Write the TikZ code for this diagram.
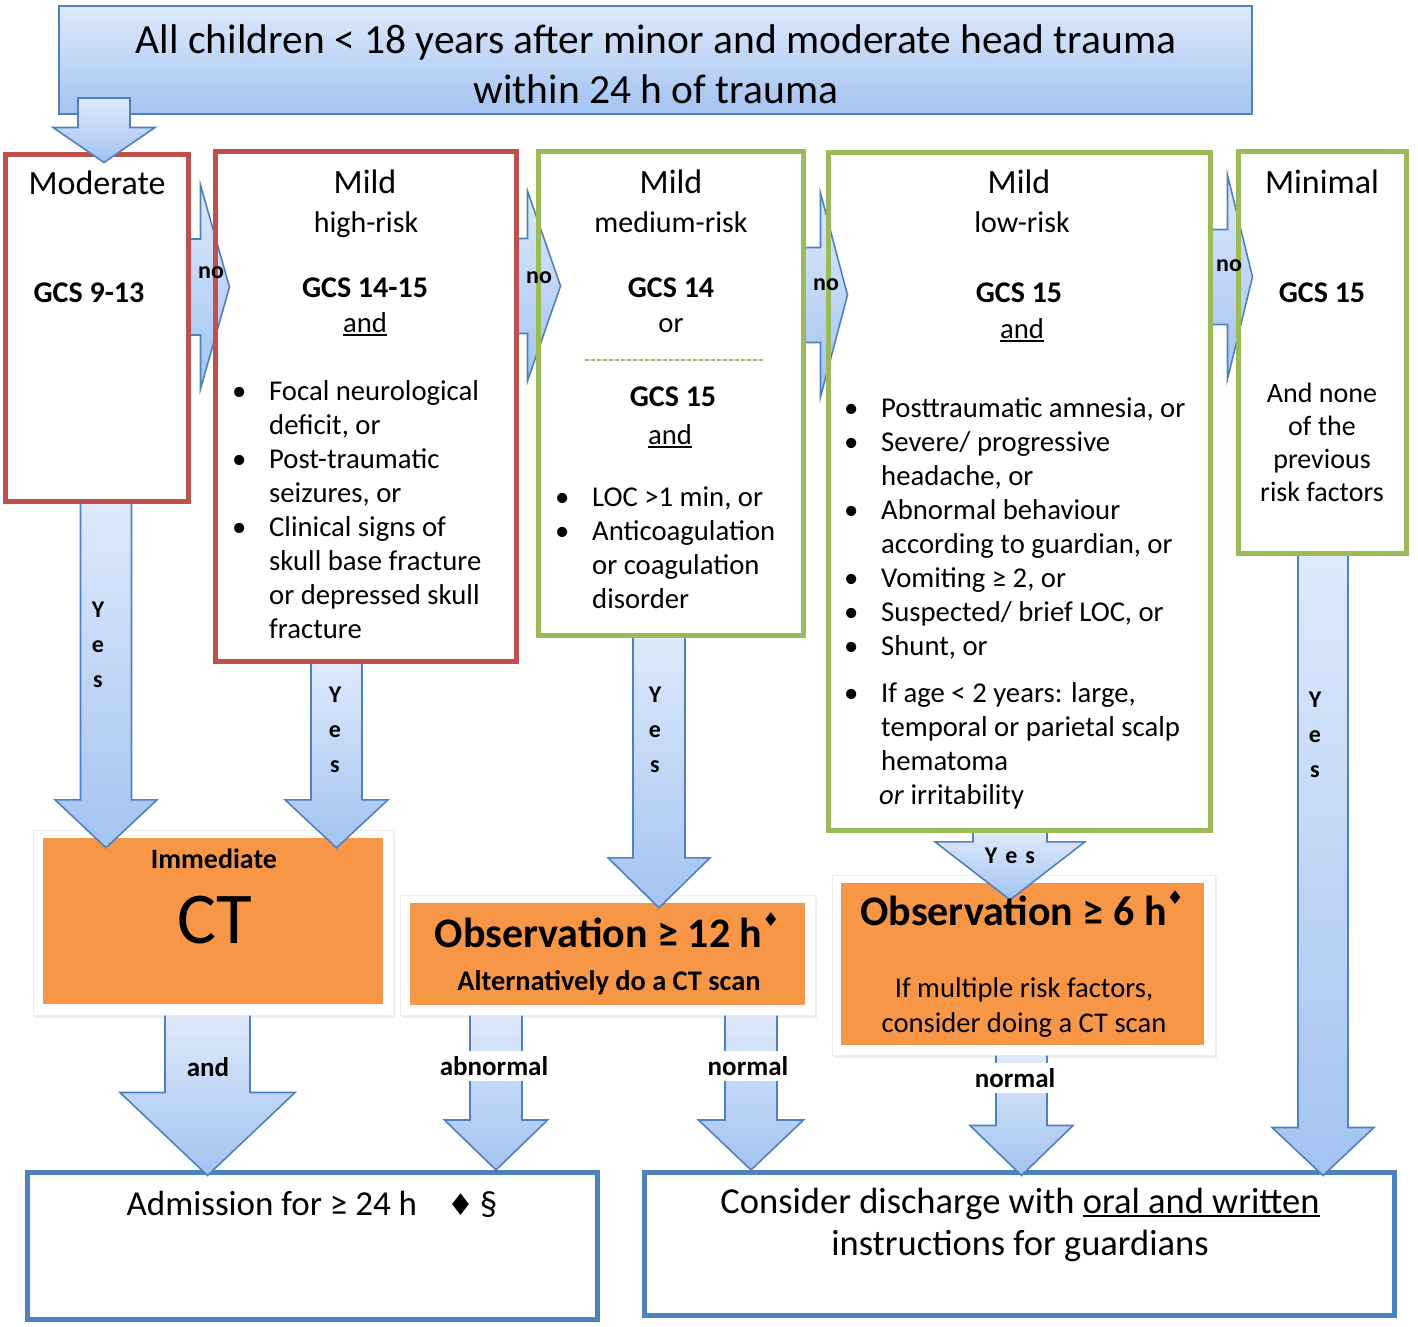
\documentclass[tikz,border=0pt]{standalone}
\usepackage{fontspec}
\setmainfont{Carlito}
\newfontfamily\symfont{DejaVu Sans}
\usetikzlibrary{calc,positioning,shadows}

\definecolor{frameblue}{RGB}{79,129,189}
\definecolor{boxred}{RGB}{192,80,77}
\definecolor{boxgreen}{RGB}{155,187,89}
\definecolor{boxorange}{RGB}{247,150,70}
\definecolor{arrowlight}{RGB}{222,233,251}
\definecolor{arrowdark}{RGB}{163,195,241}

\pgfdeclarelayer{back}
\pgfdeclarelayer{front}
\pgfsetlayers{back,main,front}

\newcommand{\fs}[2]{\fontsize{#1}{#2}\selectfont}
\newcommand{\dia}{\raisebox{0.5em}{\symfont\fontsize{19}{19}\selectfont ♦}}
\newcommand{\itm}{\makebox[37pt][l]{•}}
\newcommand{\uln}[1]{\setbox0\hbox{#1}\rlap{\rule[-3.5pt]{\wd0}{1.6pt}}\box0}

% block arrows: [close], start, end, shaft half width, head half width, head length
\newcommand{\blockdown}[6][]{%
  \path[blockarrow] let \p1=#2, \p2=#3 in
    ({\x1-#4},\y1) -- ({\x1-#4},{\y2+#6}) -- ({\x1-#5},{\y2+#6}) -- (\x1,\y2)
    -- ({\x1+#5},{\y2+#6}) -- ({\x1+#4},{\y2+#6}) -- ({\x1+#4},\y1) #1;}
\newcommand{\blockright}[5]{%
  \path[blockarrow] let \p1=#1, \p2=#2 in
    (\x1,{\y1+#3}) -- ({\x2-#5},{\y1+#3}) -- ({\x2-#5},{\y1+#4}) -- (\x2,\y1)
    -- ({\x2-#5},{\y1-#4}) -- ({\x2-#5},{\y1-#3}) -- (\x1,{\y1-#3});}

\begin{document}
\begin{tikzpicture}[x=1pt,y=-1pt,
  blockarrow/.style={top color=arrowlight,bottom color=arrowdark,draw=frameblue,line width=1.6pt,line join=miter},
  topbox/.style={draw=frameblue,line width=2pt,top color=arrowlight,bottom color=arrowdark,inner sep=0pt},
  riskbox/.style={draw=#1,line width=5pt,inner sep=0pt},
  outbox/.style={draw=frameblue,line width=5pt,fill=white,inner sep=0pt},
  panel/.style={fill=white,draw=black!7,line width=1pt,inner sep=0pt,
    drop shadow={shadow xshift=1.5pt,shadow yshift=-2.5pt,opacity=0.15}},
  orangebox/.style={fill=boxorange,inner sep=0pt},
  txt/.style={inner sep=0pt,anchor=base},
  head/.style={txt,font=\fs{34}{40}},
  sub/.style={txt,font=\fs{30}{36}},
  gcs/.style={txt,font=\bfseries\fs{30}{36}},
  body/.style={txt,font=\fs{28.7}{34}},
  lbl/.style={inner sep=0pt,font=\bfseries\fs{24}{35},align=center},
  flowlbl/.style={inner sep=5pt,font=\bfseries\fs{27}{32}},
  gcsdash/.style={draw=boxgreen,line width=1.6pt,dash pattern=on 4pt off 2pt}]
\useasboundingbox (0,0) rectangle (1418,1327);

\begin{pgfonlayer}{back}
  \node[topbox,minimum width=1193pt,minimum height=108pt] (top) at (655.5,60) {};
  \node[outbox,minimum width=570pt,minimum height=147pt] (adm) at (312.5,1246) {};
  \node[outbox,minimum width=750pt,minimum height=143pt] (dis) at (1019.5,1244) {};
  \node[panel,minimum width=360pt,minimum height=185pt] (ctp) at (213,922.5) {};
  \node[orangebox,minimum width=340pt,minimum height=166pt] (ct) at (213,921) {};
  \node[panel,minimum width=415pt,minimum height=120pt] (o12p) at (607.5,955) {};
  \node[orangebox,minimum width=395pt,minimum height=102pt] (o12) at (607.5,954) {};
  \node[panel,minimum width=383pt,minimum height=180pt] (o6p) at (1023.5,965) {};
  \node[orangebox,minimum width=363pt,minimum height=162pt] (o6) at (1022.5,964) {};
\end{pgfonlayer}

\begin{pgfonlayer}{front}
  \node[riskbox=boxred,minimum width=183pt,minimum height=347pt] (mod) at (96.5,327.5) {};
  \node[riskbox=boxred,minimum width=301pt,minimum height=510pt] (hi) at (365.5,406) {};
  \node[riskbox=boxgreen,minimum width=265pt,minimum height=484pt] (med) at (670.5,393) {};
  \node[riskbox=boxgreen,minimum width=382pt,minimum height=678pt] (low) at (1019,491) {};
  \node[riskbox=boxgreen,minimum width=168pt,minimum height=402pt] (mini) at (1322,352) {};
\end{pgfonlayer}

% title
\node[txt,font=\fs{41.5}{50}] (title) at (656,54) {\begin{tabular}[t]{@{}c@{}}All children < 18 years after minor and moderate head trauma\\within 24 h of trauma\end{tabular}};

% no arrows
\blockright{($(mod.east)+(0,-40.5)$)}{($(hi.west)+(17,0)$)}{48pt}{102pt}{29pt}
\blockright{($(hi.east)+(0,-120)$)}{($(med.west)+(25,0)$)}{47.5pt}{95pt}{33pt}
\blockright{($(med.east)+(0,-98)$)}{($(low.west)+(22,0)$)}{47.5pt}{102pt}{27pt}
\blockright{($(low.east)+(0,-214)$)}{($(mini.west)+(17,0)$)}{47.5pt}{102pt}{25pt}

% yes arrows
\blockdown{($(mod.south)+(9.5,0)$)}{($(ct.north)+(0,10)$)}{25.5pt}{51pt}{48pt}
\blockdown{($(hi.south)+(-29,0)$)}{($(ct.north)+(0,10)$)}{25.5pt}{51.5pt}{48pt}
\blockdown{($(med.south)+(-11.5,0)$)}{($(o12.north)+(0,5)$)}{26pt}{51pt}{50pt}
\blockdown{($(low.south)+(-9,0)$)}{($(o6.north)+(0,17)$)}{37pt}{75pt}{58pt}
\blockdown{($(mini.south)+(1,0)$)}{($(dis.north)+(0,5.5)$)}{25pt}{51pt}{48pt}

% outcome arrows
\blockdown{($(ctp.south)+(-5.5,0)$)}{($(adm.north)+(0,5.5)$)}{42.5pt}{87.5pt}{83pt}
\blockdown{($(o12p.south)+(-111.5,0)$)}{(adm.north)}{26pt}{51.5pt}{50pt}
\blockdown{($(o12p.south)+(143.5,0)$)}{(dis.north)}{26pt}{52.5pt}{50pt}
\blockdown{($(o6p.south)+(-2,0)$)}{($(dis.north)+(0,5.5)$)}{25.5pt}{51.5pt}{50pt}

% moderate
\node[head] (modt) at (97,194) {Moderate};
\node[gcs] (modg) at (89,302) {GCS 9-13};

% mild high-risk
\node[head] (hit) at (365,193) {Mild};
\node[sub] (his) at (366,232) {high-risk};
\node[gcs] (hig) at (365,297) {GCS 14-15};
\node[body] (hia) at (365,332) {\uln{and}};
\node[body,anchor=base west] (hil) at (232,400) {\begin{tabular}[t]{@{}l@{}l@{}}
  \itm & Focal neurological\\ & deficit, or\\
  \itm & Post-traumatic\\ & seizures, or\\
  \itm & Clinical signs of\\ & skull base fracture\\ & or depressed skull\\ & fracture\end{tabular}};

% mild medium-risk
\node[head] (medt) at (671,193) {Mild};
\node[sub] (meds) at (671,232) {medium-risk};
\node[gcs] (medg) at (671,297) {GCS 14};
\node[body] (medo) at (671,332) {or};
\draw[gcsdash] (585,360) -- (763,360);
\node[gcs] (medh) at (673,406) {GCS 15};
\node[body] (meda) at (670,444) {\uln{and}};
\node[body,anchor=base west] (medl) at (555,506) {\begin{tabular}[t]{@{}l@{}l@{}}
  \itm & LOC >1 min, or\\
  \itm & Anticoagulation\\ & or coagulation\\ & disorder\end{tabular}};

% mild low-risk
\node[head] (lowt) at (1019,193) {Mild};
\node[sub] (lows) at (1022,232) {low-risk};
\node[gcs] (lowg) at (1019,302) {GCS 15};
\node[body] (lowa) at (1022,338) {\uln{and}};
\node[body,anchor=base west] (lowl) at (844,417) {\begin{tabular}[t]{@{}l@{}l@{}}
  \itm & Posttraumatic amnesia, or\\
  \itm & Severe/ progressive\\ & headache, or\\
  \itm & Abnormal behaviour\\ & according to guardian, or\\
  \itm & Vomiting ≥ 2, or\\
  \itm & Suspected/ brief LOC, or\\
  \itm & Shunt, or\\[13pt]
  \itm & If age < 2 years: large,\\ & temporal or parietal scalp\\ & hematoma\\ & \hspace{-2pt}\textit{or} irritability\end{tabular}};

% minimal
\node[head] (minit) at (1322,193) {Minimal};
\node[gcs] (minig) at (1322,302) {GCS 15};
\node[body,font=\fs{28}{33}] (minib) at (1322,402) {\begin{tabular}[t]{@{}c@{}}And none\\of the\\previous\\risk factors\end{tabular}};

% orange boxes
\node[txt,font=\bfseries\fs{28}{34}] (ctt) at (214,868) {Immediate};
\node[txt,font=\fs{73}{80}] (ctb) at (215,943) {CT};
\node[txt,font=\bfseries\fs{42}{46}] (o12t) at (607,947) {Observation ≥ 12 h\dia};
\node[txt,font=\bfseries\fs{28.4}{34}] (o12s) at (609,990) {Alternatively do a CT scan};
\node[txt,font=\bfseries\fs{42}{46}] (o6t) at (1022,925) {Observation ≥ 6 h\dia};
\node[body,font=\fs{28.6}{35}] (o6s) at (1024,997) {\begin{tabular}[t]{@{}c@{}}If multiple risk factors,\\consider doing a CT scan\end{tabular}};

% outcomes
\node[txt,font=\fs{35}{42}] (admt) at (312,1215) {Admission for ≥ 24 h\hspace{30pt}{\symfont\fontsize{30}{30}\selectfont ♦}\,§};
\node[txt,font=\fs{36.5}{42}] (dist) at (1020,1213) {\begin{tabular}[t]{@{}c@{}}Consider discharge with \uln{oral and written}\\instructions for guardians\end{tabular}};

\begin{pgfonlayer}{front}
  \blockdown[-- cycle]{($(top.south west)+(46,-17)$)}{($(mod.north)+(0,11)$)}{26pt}{51pt}{35pt}
  \node[lbl] (no1) at (211,273) {no};
  \node[lbl] (no2) at (539,278) {no};
  \node[lbl] (no3) at (826,285) {no};
  \node[lbl] (no4) at (1229,266) {no};
  \node[lbl] (yes1) at (98,645) {Y\\e\\s};
  \node[lbl] (yes2) at (335,730) {Y\\e\\s};
  \node[lbl] (yes3) at (655,730) {Y\\e\\s};
  \node[lbl] (yes4) at (1010,856) {Y\,\,e\,\,s};
  \node[lbl] (yes5) at (1315,735) {Y\\e\\s};
  \node[flowlbl] (and) at (208,1067) {and};
  \node[flowlbl,fill=white] (abn) at (494,1066) {abnormal};
  \node[flowlbl,fill=white] (nrm1) at (748,1066) {normal};
  \node[flowlbl,fill=white] (nrm2) at (1015,1078) {normal};
\end{pgfonlayer}
\end{tikzpicture}
\end{document}
